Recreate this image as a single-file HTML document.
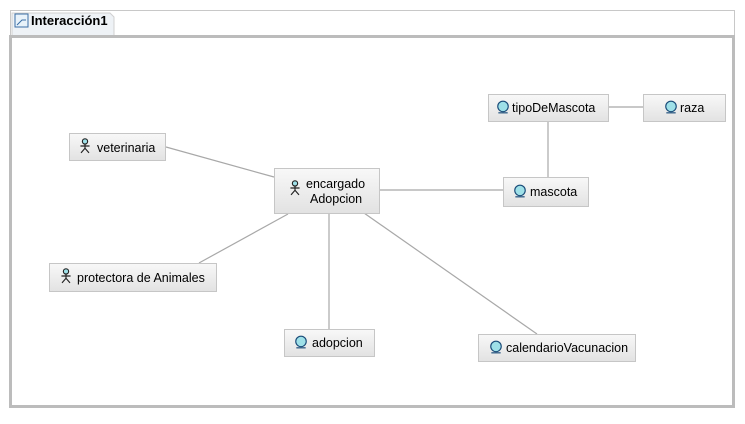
<!DOCTYPE html>
<html><head><meta charset="utf-8"><style>
body{margin:0;background:#fff;width:745px;height:419px;overflow:hidden;font-family:"Liberation Sans",sans-serif;}
</style></head><body>
<svg width="745" height="419" xmlns="http://www.w3.org/2000/svg" font-family="Liberation Sans, sans-serif">
<defs>
<linearGradient id="g" x1="0" y1="0" x2="0" y2="1"><stop offset="0" stop-color="#f8f8f8"/><stop offset="1" stop-color="#e2e2e2"/></linearGradient>
<symbol id="ball" viewBox="0 0 12 12"><circle cx="6" cy="5.5" r="4.5" fill="#9ee0e8" stroke="#1b4d7a" stroke-width="1"/><line x1="2" y1="11" x2="10" y2="11" stroke="#1b4d7a"/></symbol>
<symbol id="actor" viewBox="0 0 12 14"><circle cx="6" cy="3" r="2.3" fill="#9ee0e8" stroke="#222"/><path d="M6 5.3V9M2 7h8M6 9L2.5 13M6 9l3.5 4" stroke="#222" fill="none"/></symbol>
</defs>
<rect x="10.5" y="10.5" width="724" height="397" fill="none" stroke="#c8c8c8" stroke-width="1"/>
<path d="M12 36 V13 H110 l4 4 V36" fill="#eef2f6" stroke="#d0d0d0"/>
<rect x="10.5" y="36.5" width="723" height="370" fill="none" stroke="#bcbcbc" stroke-width="3"/>
<rect x="15" y="14" width="13" height="13" fill="#e8f2fa" stroke="#3a6ea5"/>
<path d="M17 25 L22 20 H26" stroke="#3a6ea5" fill="none"/>
<text x="31" y="25" font-size="13" font-weight="bold" fill="#000">Interacción1</text>
<g stroke="#a8a8a8" stroke-width="1.2">
<line x1="166" y1="147" x2="274" y2="177"/>
<line x1="379" y1="190" x2="503" y2="190"/>
<line x1="608" y1="107" x2="643" y2="107"/>
<line x1="548" y1="121" x2="548" y2="177"/>
<line x1="288" y1="214" x2="199" y2="263"/>
<line x1="329" y1="213" x2="329" y2="329"/>
<line x1="364" y1="213" x2="537" y2="334"/>
</g>
<g stroke="#c6c6c6" fill="url(#g)">
<rect x="69.5" y="133.5" width="96" height="27"/>
<rect x="274.5" y="168.5" width="105" height="45"/>
<rect x="488.5" y="94.5" width="120" height="27"/>
<rect x="643.5" y="94.5" width="82" height="27"/>
<rect x="503.5" y="177.5" width="85" height="29"/>
<rect x="49.5" y="263.5" width="167" height="28"/>
<rect x="284.5" y="329.5" width="90" height="27"/>
<rect x="478.5" y="334.5" width="157" height="27"/>
</g>
<use href="#actor" x="78" y="138" width="14" height="16"/>
<use href="#actor" x="288" y="180" width="14" height="16"/>
<use href="#actor" x="59" y="268" width="14" height="16"/>
<use href="#ball" x="496" y="100" width="14" height="14"/>
<use href="#ball" x="664" y="100" width="14" height="14"/>
<use href="#ball" x="513" y="184" width="14" height="14"/>
<use href="#ball" x="294" y="335" width="14" height="14"/>
<use href="#ball" x="489" y="340" width="14" height="14"/>
<g font-size="12.5" fill="#000">
<text x="97" y="152">veterinaria</text>
<text x="306" y="188">encargado</text>
<text x="310" y="203">Adopcion</text>
<text x="512" y="112">tipoDeMascota</text>
<text x="680" y="112">raza</text>
<text x="530" y="196">mascota</text>
<text x="77" y="282">protectora de Animales</text>
<text x="312" y="347">adopcion</text>
<text x="506" y="352">calendarioVacunacion</text>
</g>
</svg>
</body></html>
